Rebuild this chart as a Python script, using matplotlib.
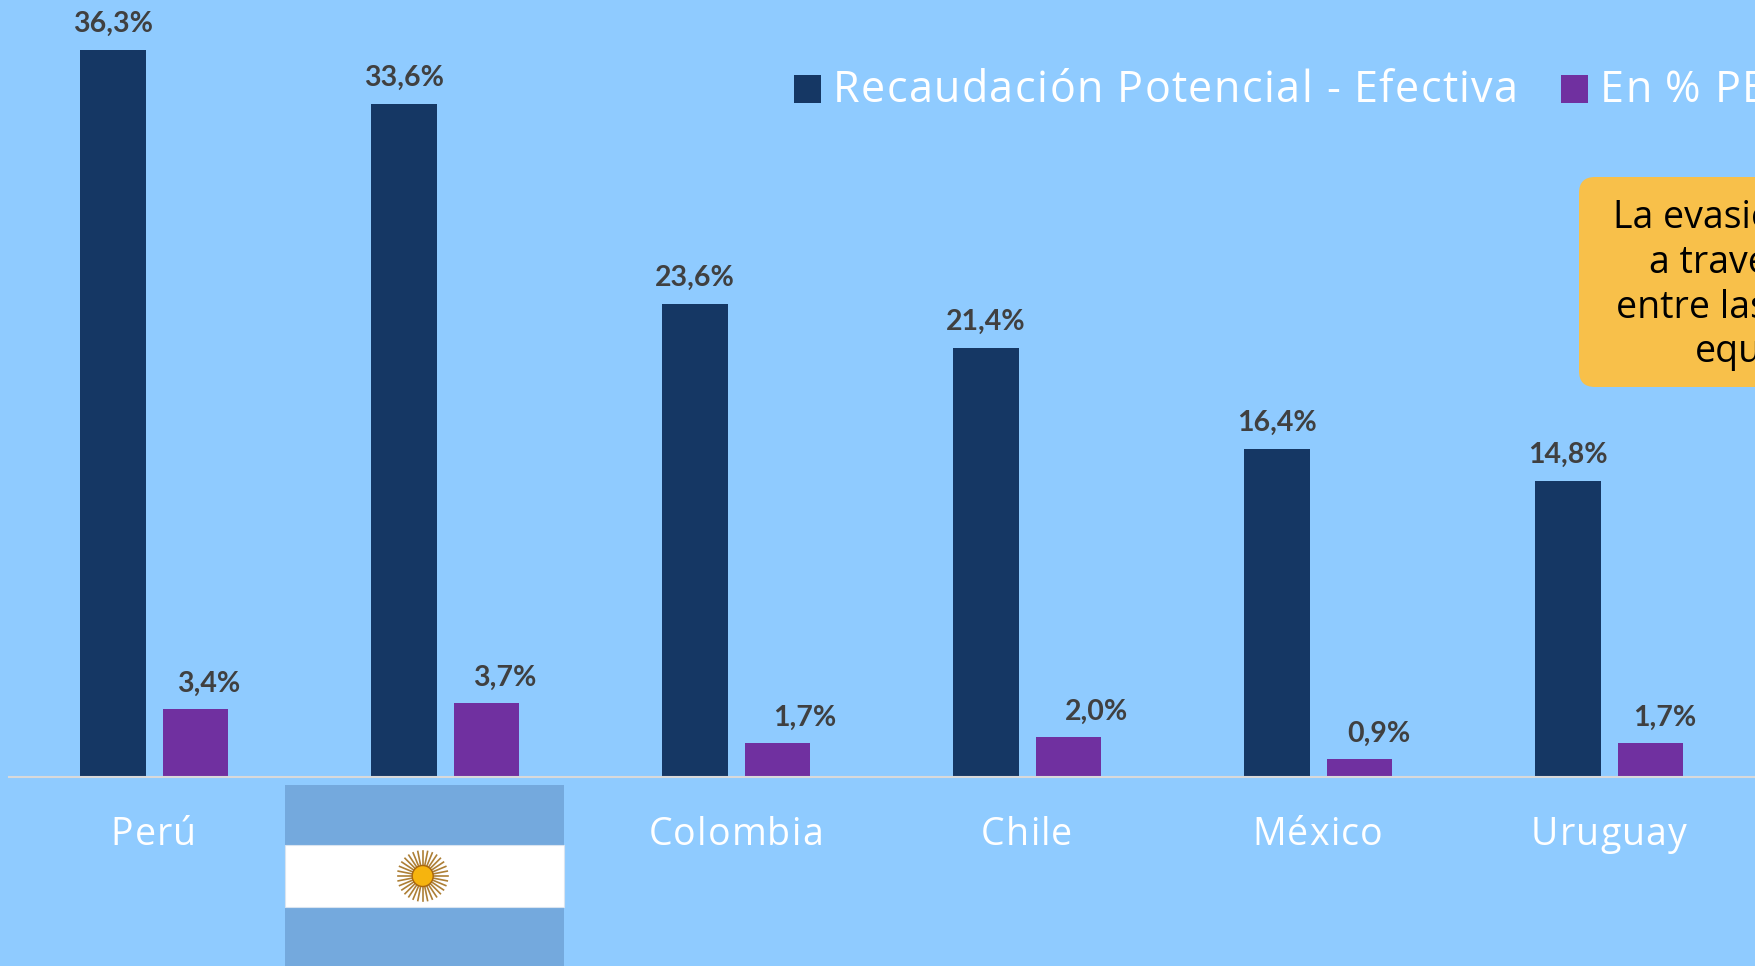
import numpy as np
import matplotlib
matplotlib.use("Agg")
import matplotlib.pyplot as plt
from matplotlib.patches import FancyBboxPatch, Rectangle, Circle
from matplotlib.text import Text
from matplotlib.transforms import Affine2D, IdentityTransform

W, H = 1755, 966
categories = ["Perú", "Argentina", "Colombia", "Chile", "México", "Uruguay"]
tick_labels = ["Perú", "", "Colombia", "Chile", "México", "Uruguay"]
recaudacion = [36.3, 33.6, 23.6, 21.4, 16.4, 14.8]
pct_pbi = [3.4, 3.7, 1.7, 2.0, 0.9, 1.7]
series_names = ["Recaudación Potencial - Efectiva", "En % PBI"]
callout_lines = ["La evasión", "a través", "entre las", "equ"]

BG = "#8FCBFF"; NAVY = "#153764"; PURPLE = "#7030A0"; GREY = "#404040"
plt.rcParams["font.family"] = ["Open Sans", "DejaVu Sans"]


class SpacedText(Text):
    """A Text that keeps its whole string but draws it with letter-spacing."""
    spacing = 0.0
    nudge = (0.0, 0.0)

    def draw(self, renderer):
        s = self.get_text()
        if not self.get_visible() or not s:
            return
        bbox, _, descent = self._get_layout(renderer)
        ext = self.get_window_extent(renderer)
        extra = self.spacing * (len(s) - 1)
        x0 = ext.x0 - (extra / 2 if self.get_ha() == "center" else 0) + self.nudge[0]
        base = ext.y0 + descent + self.nudge[1]
        for i, ch in enumerate(s):
            w = renderer.get_text_width_height_descent(s[:i], self.get_fontproperties(), False)[0] if i else 0
            Text(x0 + w + i * self.spacing, base, ch, color=self.get_color(),
                 fontproperties=self.get_fontproperties(), ha="left", va="baseline",
                 transform=IdentityTransform(), figure=self.figure).draw(renderer)


def spaced(t, px_gap, nudge=(0.0, 0.0)):
    t.__class__ = SpacedText
    t.spacing = px_gap
    t.nudge = nudge


fig = plt.figure(figsize=(W/100, H/100), dpi=100, facecolor=BG)
ax = fig.add_axes([9/W, (H-777)/H, (W-9)/W, 777/H], facecolor=BG)
px = 0.72  # px to points

x = np.arange(len(categories))
bw = 65.5/291
b1 = ax.bar(x-0.1426, recaudacion, bw, color=NAVY, label=series_names[0])
b2 = ax.bar(x+0.1410, pct_pbi, bw, color=PURPLE, label=series_names[1])
ax.set_xlim(-0.5000, 5.4997)
ax.set_ylim(0, 777/20.03)

for s in ["top", "left", "right"]:
    ax.spines[s].set_visible(False)
ax.spines["bottom"].set_color("#D9D9D9")
ax.spines["bottom"].set_linewidth(1.5)
ax.set_yticks([])
ax.set_xticks(x, tick_labels, color="white", fontsize=27)
ax.tick_params(axis="x", length=0, pad=28)
for t in ax.get_xticklabels():
    spaced(t, 1.1, (-1.0, 0.0))

fmt = lambda v: f"{v:.1f}%".replace(".", ",")
label_font = dict(family=["Lato", "DejaVu Sans"], fontweight="bold", fontsize=20.5,
                  color=GREY, ha="center", va="center")
for xi, v in zip(x-0.1426, recaudacion):
    ax.annotate(fmt(v), (xi, v), xytext=(0, 26*px), textcoords="offset points", **label_font)
shift = [13, 18, 27, 28, 19, 14]
for xi, v, d in zip(x+0.1410, pct_pbi, shift):
    ax.annotate(fmt(v), (xi, v), xytext=(d*px, 25.5*px), textcoords="offset points", **label_font)

leg = ax.legend(handles=[b1, b2], loc="upper left", ncol=2, frameon=False,
                bbox_to_anchor=(794/W, 1-71/H), bbox_transform=fig.transFigure,
                fontsize=31, labelcolor="white", borderpad=0, borderaxespad=0,
                handlelength=0.625, handleheight=0.625, handletextpad=0.28, columnspacing=2.0)
for t in leg.get_texts():
    spaced(t, 1.4, (0.0, 2.0))

# pixel-space overlay (top-left origin)
pix = Affine2D().scale(1/W, -1/H).translate(0, 1) + fig.transFigure

box = FancyBboxPatch((1593, 191), 400, 182, boxstyle="round,pad=14,rounding_size=16",
                     fc="#F8C04A", ec="none", transform=pix, clip_on=False, zorder=3)
fig.add_artist(box)
for line, lx, by in zip(callout_lines, [1613, 1649, 1616, 1695], [228, 273, 318, 362]):
    fig.text(lx/W, 1-by/H, line, color="black", fontsize=27, ha="left", va="baseline", zorder=4)

# Argentine flag in place of the category label
fig.add_artist(Rectangle((285, 785), 279, 181, fc="#74A9DD", ec="none", transform=pix, zorder=2))
fig.add_artist(Rectangle((285, 845), 279, 62, fc="white", ec="#D9E4F0", lw=0.8, transform=pix, zorder=2))
cx, cy = 422.7, 876
for a in np.linspace(0, 2*np.pi, 32, endpoint=False):
    fig.add_artist(plt.Line2D([cx+9*np.cos(a), cx+25*np.cos(a)], [cy+9*np.sin(a), cy+25*np.sin(a)],
                              color="#AD7F35", lw=1.2, transform=pix, zorder=3))
fig.add_artist(Circle((cx, cy), 10.5, fc="#F6B40E", ec="#A8660F", lw=1, transform=pix, zorder=4))

fig.savefig("out.png", dpi=100, facecolor=BG)
